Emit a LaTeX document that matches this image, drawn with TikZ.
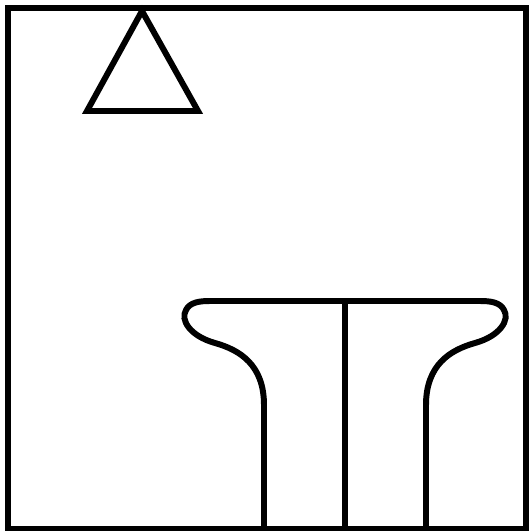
\documentclass[tikz,border=0pt]{standalone}
\usepackage{tikz}
\usetikzlibrary{arrows.meta, positioning}

\begin{document}
\begin{tikzpicture}[x=0.02cm, y=-0.02cm, line width=3.4pt, line join=miter]
            \useasboundingbox (0,0) rectangle (531,531);
            % frame
            \draw (8,8) rectangle (526,529);
            % triangle
            \coordinate (apex) at (142,11);
            \coordinate (bl) at (87,111);
            \coordinate (br) at (198,111);
            \draw (apex) -- (bl) -- (br) -- cycle;
            % stand
            \draw (264,529) -- (264,405)
                .. controls (264,365) and (240,350) .. (215,343)
                .. controls (190,336) and (180,320) .. (186,310)
                .. controls (190,302) and (200,301) .. (210,301)
                -- (480,301)
                .. controls (490,301) and (500,302) .. (504,310)
                .. controls (510,320) and (500,336) .. (475,343)
                .. controls (450,350) and (426,365) .. (426,405)
                -- (426,529);
            \draw (345,301) -- (345,529);
        \end{tikzpicture}
\end{document}
